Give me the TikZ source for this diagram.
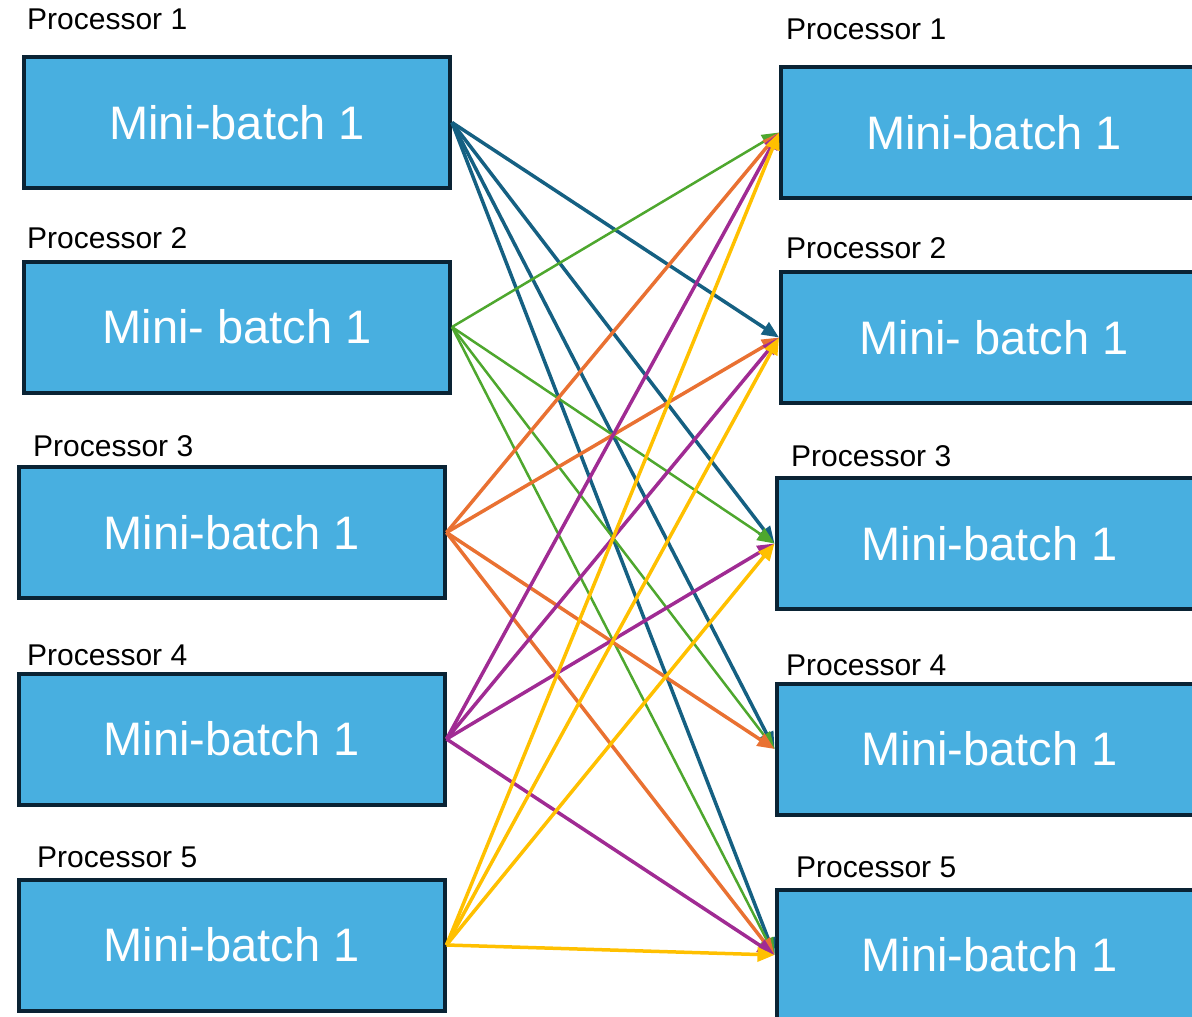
\documentclass[tikz,border=0pt]{standalone}
\usepackage{fontspec}
\setmainfont{Liberation Sans}
\usetikzlibrary{arrows.meta}

\begin{document}
\begin{tikzpicture}[x=1pt, y=-1pt, >={Triangle[length=17pt,width=14pt]},
	batch/.style={draw=boxedge, line width=4pt, fill=boxfill, text=white,
		minimum width=426pt, minimum height=131pt, inner sep=0pt,
		font=\fontsize{47}{50}\selectfont},
	proc/.style={anchor=base west, inner sep=0pt, font=\fontsize{30}{32}\selectfont},
	link/.style={->, line width=3.5pt}]
	\definecolor{boxfill}{RGB}{72, 175, 224}
	\definecolor{boxedge}{RGB}{10, 35, 52}
	\definecolor{linkblue}{RGB}{21, 96, 130}
	\definecolor{linkgreen}{RGB}{78, 167, 46}
	\definecolor{linkorange}{RGB}{233, 113, 50}
	\definecolor{linkpurple}{RGB}{160, 43, 147}
	\definecolor{linkyellow}{RGB}{255, 192, 0}

	\useasboundingbox (0,0) rectangle (1192,1017);

	% linke Seite: Sender
	\node[batch] (l1) at (237,122.5) {Mini-batch 1};
	\node[batch] (l2) at (237,327) {Mini- batch 1};
	\node[batch] (l3) at (231.5,532.5) {Mini-batch 1};
	\node[batch] (l4) at (231.5,739) {Mini-batch 1};
	\node[batch] (l5) at (231.5,945) {Mini-batch 1};
	\node[proc] (pl1) at (27,29) {Processor 1};
	\node[proc] (pl2) at (27,248) {Processor 2};
	\node[proc] (pl3) at (33,456) {Processor 3};
	\node[proc] (pl4) at (27,665) {Processor 4};
	\node[proc] (pl5) at (37,867) {Processor 5};

	% rechte Seite: Empfaenger
	\node[batch] (r1) at (994,132.5) {Mini-batch 1};
	\node[batch] (r2) at (994,337.5) {Mini- batch 1};
	\node[batch] (r3) at (989.5,543.5) {Mini-batch 1};
	\node[batch] (r4) at (989.5,749) {Mini-batch 1};
	\node[batch] (r5) at (989.5,955) {Mini-batch 1};
	\node[proc] (pr1) at (786,39) {Processor 1};
	\node[proc] (pr2) at (786,258) {Processor 2};
	\node[proc] (pr3) at (791,466) {Processor 3};
	\node[proc] (pr4) at (786,675) {Processor 4};
	\node[proc] (pr5) at (796,877) {Processor 5};

	% Verbindungen (jeder an jeden ausser sich selbst, teils fehlend)
	\foreach \t in {r2,r3,r4,r5}
		\draw[link, linkblue] (l1.east) -- (\t.west);
	\foreach \t in {r1,r3,r4,r5}
		\draw[link, linkgreen, line width=2.5pt] (l2.east) -- (\t.west);
	\foreach \t in {r1,r2,r4,r5}
		\draw[link, linkorange] (l3.east) -- (\t.west);
	\foreach \t in {r1,r2,r3,r5}
		\draw[link, linkpurple] (l4.east) -- (\t.west);
	\foreach \t in {r1,r2,r3,r5}
		\draw[link, linkyellow] (l5.east) -- (\t.west);
\end{tikzpicture}
\end{document}
